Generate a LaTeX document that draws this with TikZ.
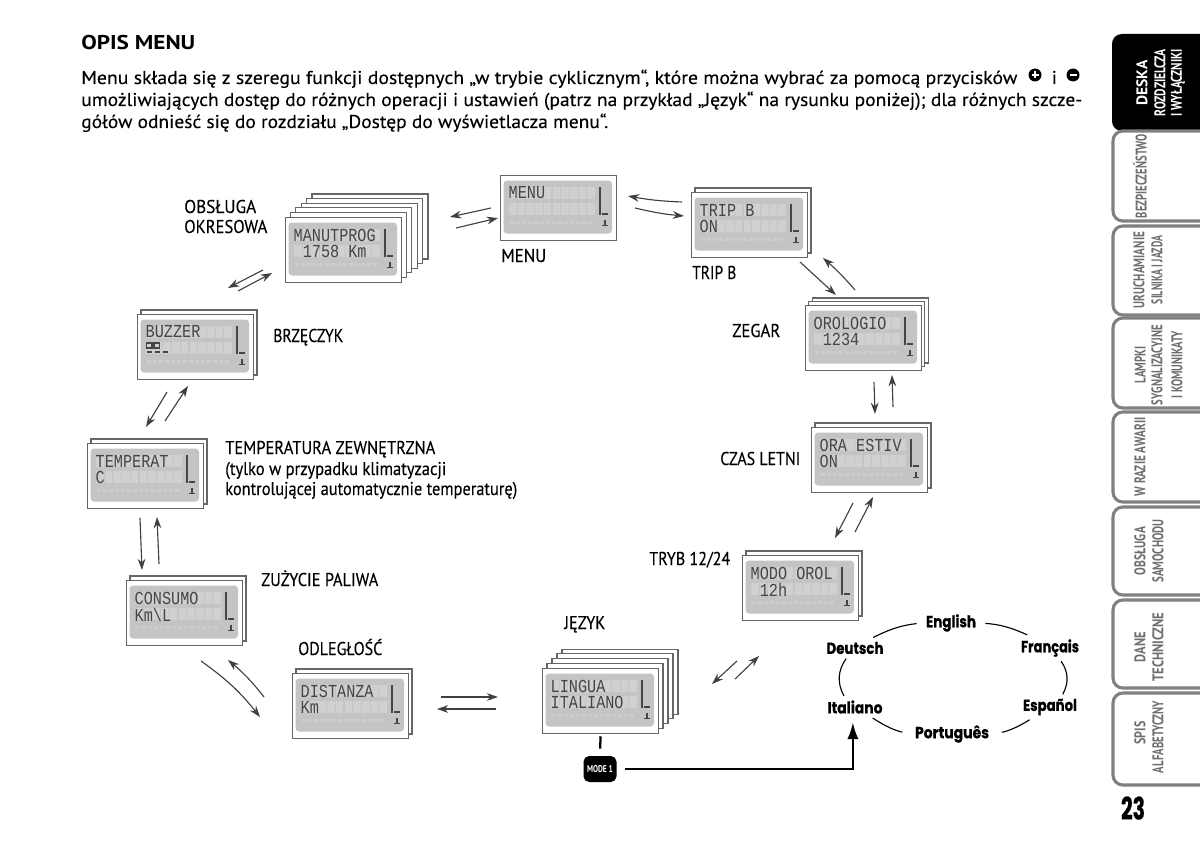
\documentclass[tikz,border=0pt]{standalone}
\usepackage{fontspec}
\usepackage{graphicx}
\usetikzlibrary{arrows}
\usetikzlibrary{arrows.meta}

\newfontfamily\ptfont{PT Sans}[FakeBold=0.15]
\newfontfamily\ptbold{PT Sans Bold}
\newfontfamily\lcdfont{Liberation Mono}
\newfontfamily\langfont{Poppins Bold}[FakeBold=0.6]

\definecolor{lcdgray}{HTML}{C4C4C4}
\definecolor{lcdcell}{HTML}{D0D0D0}
\definecolor{lcdfaint}{HTML}{CDCDCD}
\definecolor{lcdink}{HTML}{454545}
\definecolor{framegray}{HTML}{666666}
\definecolor{arrowgray}{HTML}{404040}
\definecolor{tabgray}{HTML}{808080}
\definecolor{tabtextgray}{HTML}{6E6E6E}

\newdimen\pxunit
\pxunit=0.025cm
\newcommand{\fitbox}[2]{\resizebox{#1\pxunit}{\height}{#2}}

\begin{document}
\begin{tikzpicture}[x=0.025cm,y=-0.025cm]
            \tikzstyle{screen}=[draw=framegray,line width=0.8pt,fill=white,anchor=north west,minimum width=2.9cm,minimum height=1.625cm,inner sep=0pt]
            \tikzstyle{backframe}=[draw=framegray,line width=0.8pt,fill=white]
            \tikzstyle{lcdtext}=[anchor=west,inner sep=0pt,text=lcdink,font=\lcdfont\fontsize{13}{13}\selectfont,xscale=0.83]
            \tikzstyle{cyclearrow}=[draw=arrowgray,line width=0.8pt,-{Stealth[length=8pt,width=5.5pt]}]
            \tikzstyle{caption}=[anchor=base west,inner sep=0pt,font=\ptfont\fontsize{13.2}{15}\selectfont]
            \tikzstyle{heading}=[anchor=base west,inner sep=0pt,font=\ptbold\fontsize{14.2}{16}\selectfont]
            \tikzstyle{language}=[inner sep=3pt,font=\langfont\fontsize{11.5}{13}\selectfont]
            \tikzstyle{langarc}=[draw=black,line width=0.8pt]
            \tikzstyle{tabframe}=[draw=tabgray,line width=2.2pt,fill=white,rounded corners=7pt]
            \tikzstyle{tabtext}=[rotate=90,inner sep=0pt,text=tabtextgray,font=\ptbold\fontsize{11}{12}\selectfont]
            \tikzstyle{roundbutton}=[circle,fill=black,minimum size=13\pxunit,inner sep=0pt]

            % screen with its stack of pages behind it
            \def\lcdscreen#1#2#3#4#5#6#7#8{
                \ifnum#4>0
                    \foreach \i in {#4,...,1}
                        \path[backframe] ({#2+\i*#5},{#3-\i*#6}) rectangle +(116,65);
                \fi
                \node[screen] (#1) at (#2,#3) {};
                \begin{scope}[shift={(#2,#3)}]
                    \fill[lcdgray,rounded corners=2.5pt] (3.5,5.5) rectangle (112,58.5);
                    \foreach \c in {0,...,9} {
                        \fill[lcdcell] ({9+8.7*\c},12) rectangle +(7.6,12);
                        \fill[lcdcell] ({9+8.7*\c},28) rectangle +(7.6,12);
                    }
                    \foreach \c in {0,...,13}
                        \fill[lcdfaint] ({10+6*\c},45.5) rectangle +(3.6,3.5);
                    \node[lcdtext] (#1-top) at (8.5,18) {#7};
                    \node[lcdtext] (#1-bot) at (8.5,34.5) {#8};
                    \draw[lcdink,line width=0.9pt] (100,12) -- (100,40);
                    \fill[lcdink] (102,37.5) rectangle (108,39.5);
                    \fill[lcdink] (102,50) rectangle (108,51);
                    \fill[lcdink] (104.4,45) rectangle (105.6,50);
                \end{scope}
            }

            % pair of ends for one arrow of the cycle
            \def\cyclearrow#1#2#3#4#5#6{
                \coordinate (#1-a) at (#2,#3);
                \coordinate (#1-b) at (#4,#5);
                \draw[cyclearrow] (#1-a) to[bend left=#6] (#1-b);
            }

            \useasboundingbox[fill=white] (0,0) rectangle (1200,847);

            \node[heading] (title) at (81,50) {\fitbox{114}{OPIS MENU}};
            \node[caption] (body1) at (81,84) {\fitbox{936}{Menu składa się z szeregu funkcji dostępnych „w trybie cyklicznym“, które można wybrać za pomocą przycisków}};
            \node[caption] (body2) at (81,106) {\fitbox{1001}{umożliwiających dostęp do różnych operacji i ustawień (patrz na przykład „Język“ na rysunku poniżej); dla różnych szcze-}};
            \node[caption] (body3) at (81,128) {\fitbox{527}{gółów odnieść się do rozdziału „Dostęp do wyświetlacza menu“.}};
            \node[roundbutton] (plusbutton) at (1035,75) {};
            \draw[white,line width=1.4pt] (1031.5,75) -- (1038.5,75) (1035,71.5) -- (1035,78.5);
            \node[caption] (andword) at (1051.5,84) {i};
            \node[roundbutton] (minusbutton) at (1073,75) {};
            \draw[white,line width=1.4pt] (1069.5,75) -- (1076.5,75);

            \lcdscreen{menu}{500}{175}{0}{4}{4}{MENU}{}
            \lcdscreen{manutprog}{285}{217}{5}{5.4}{4.6}{MANUTPROG}{~1758~Km}
            \lcdscreen{tripb}{691}{192}{1}{4}{4}{TRIP~B}{ON}
            \lcdscreen{orologio}{805}{305}{2}{3.7}{3.5}{OROLOGIO}{~1234}
            \lcdscreen{oraestiv}{811}{427}{1}{4}{4}{ORA~ESTIV}{ON}
            \lcdscreen{mododrol}{742}{555}{1}{4}{4}{MODO~OROL}{~12h}
            \lcdscreen{lingua}{542}{668}{4}{5}{4.7}{LINGUA}{ITALIANO}
            \lcdscreen{distanza}{292}{673}{1}{4}{4}{DISTANZA}{Km}
            \lcdscreen{consumo}{126}{580}{1}{4}{4}{CONSUMO}{Km\textbackslash L}
            \lcdscreen{temperat}{87}{443}{1}{4}{4}{TEMPERAT}{C}
            \lcdscreen{buzzer}{137}{314}{1}{4}{4}{BUZZER}{}

            \draw[lcdink,line width=0.8pt] (147,352) -- (152,352) (155,352) -- (160,352) (163,352) -- (168,352);
            \draw[lcdink,line width=0.8pt] (146.5,343) rectangle (152,348) (154,343) rectangle (159.5,348);

            \cyclearrow{menuleft}{491}{208}{450}{217}{0}
            \cyclearrow{leftmenu}{456}{228}{498}{218}{0}
            \cyclearrow{tripmenu}{682}{202}{628}{196}{4}
            \cyclearrow{menutrip}{635}{208}{684}{216}{-4}
            \cyclearrow{tripclock}{800}{262}{836}{295}{0}
            \cyclearrow{clocktrip}{855}{290}{823}{258}{-4}
            \cyclearrow{clocksummer}{874}{382}{875}{414}{0}
            \cyclearrow{summerclock}{893}{407}{892}{375}{0}
            \cyclearrow{summermode}{853}{503}{835}{538}{0}
            \cyclearrow{modesummer}{855}{532}{873}{497}{0}
            \cyclearrow{modelang}{737}{661}{712}{684}{0}
            \cyclearrow{langmode}{735}{679}{759}{656}{0}
            \cyclearrow{distlang}{441}{697}{498}{697}{0}
            \cyclearrow{langdist}{496}{709}{437}{709}{0}
            \cyclearrow{fueldist}{201}{661}{260}{717}{8}
            \cyclearrow{distfuel}{264}{697}{228}{660}{-6}
            \cyclearrow{tempfuel}{140}{518}{142}{570}{0}
            \cyclearrow{fueltemp}{159}{564}{157}{517}{0}
            \cyclearrow{buzztemp}{167}{392}{146}{427}{0}
            \cyclearrow{tempbuzz}{165}{421}{188}{386}{0}
            \cyclearrow{servbuzz}{263}{270}{228}{288}{0}
            \cyclearrow{buzzserv}{238}{291}{272}{273}{0}

            \foreach \nm/\xx/\yy/\wid/\txt in {
                    service/184/213/72/OBSŁUGA,
                    serviceb/184/233/83/OKRESOWA,
                    menulabel/501/262/45/MENU,
                    triplabel/692/279/44/TRIP B,
                    clocklabel/732/337/48/ZEGAR,
                    buzzlabel/273/342/70/BRZĘCZYK,
                    templabel/225/454/210/TEMPERATURA ZEWNĘTRZNA,
                    templabelb/225/475/221/(tylko w przypadku klimatyzacji,
                    templabelc/225/495/292/kontrolującej automatycznie temperaturę),
                    summerlabel/720/465/80/CZAS LETNI,
                    modelabel/649/565/81/{TRYB 12/24},
                    fuellabel/261/586/117/ZUŻYCIE PALIWA,
                    distlabel/298/655/84/ODLEGŁOŚĆ,
                    langlabel/564/629/41/JĘZYK} {
                \node[caption] (\nm) at (\xx,\yy) {\fitbox{\wid}{\txt}};
            }

            \node[language] (english) at (951,623) {\fitbox{50}{English}};
            \node[language] (francais) at (1050,648) {\fitbox{58}{Français}};
            \node[language] (espanol) at (1050,707) {\fitbox{54}{Español}};
            \node[language] (portugues) at (952,734) {\fitbox{74}{Português}};
            \node[language] (italiano) at (855,707) {\fitbox{55}{Italiano}};
            \node[language] (deutsch) at (855,648) {\fitbox{57}{Deutsch}};

            \path[langarc,shorten <=3.5pt] (english.west) to[bend right=10] (deutsch.30);
            \path[langarc,shorten <=3.5pt] (english.east) to[bend left=10] (francais.150);
            \path[langarc] (francais.-50) to[bend left=32] (espanol.45);
            \path[langarc] (deutsch.-130) to[bend right=32] (italiano.135);
            \path[langarc,shorten >=6pt] (italiano.-32) to[bend right=10] (portugues.west);
            \path[langarc,shorten <=6pt] (portugues.east) to[bend right=10] (espanol.-148);

            \node[fill=black,rounded corners=4pt,minimum width=33\pxunit,minimum height=26\pxunit,inner sep=0pt,text=white,font=\ptbold\fontsize{7}{8}\selectfont] (modebutton) at (600,769) {\fitbox{26}{MODE 1}};
            \draw[black,line width=1.6pt,shorten <=1.5pt,shorten >=5pt] (lingua.south) -- (modebutton.north);
            \draw[black,line width=1.7pt,-{Latex[length=12pt,width=8pt]},shorten <=6pt,shorten >=3pt] (modebutton.east) -| ([xshift=-1.5pt]italiano.south);

            \path[fill=black,rounded corners=7pt] (1200,34) -- (1112,34) -- (1112,131) -- (1200,131);
            \fill[black] (1180,34) rectangle (1200,131);
            \foreach \yy/\yb in {131/221,226/315,318/408,412/502,507/595,600/688,693/785}
                \path[tabframe] (1201,\yy) -- (1113,\yy) -- (1113,\yb) -- (1201,\yb);

            \foreach \nm/\xx/\yy/\wid/\txt in {
                    desk/1142/83/45/DESKA,
                    deskb/1160/83/67/ROZDZIELCZA,
                    deskc/1178/83/67/I WYŁĄCZNIKI} {
                \node[tabtext,text=white] (\nm) at (\xx,\yy) {\fitbox{\wid}{\txt}};
            }
            \foreach \nm/\xx/\yy/\wid/\txt in {
                    safety/1140/176/84/BEZPIECZEŃSTWO,
                    start/1139/270/76/URUCHAMIANIE,
                    startb/1157/270/68/SILNIKA I JAZDA,
                    lamps/1140/365/37/LAMPKI,
                    lampsb/1157/365/80/SYGNALIZACYJNE,
                    lampsc/1177/365/67/I KOMUNIKATY,
                    breakdown/1140/457/79/W RAZIE AWARII,
                    care/1140/551/48/OBSŁUGA,
                    careb/1158/551/63/SAMOCHODU,
                    data/1140/647/30/DANE,
                    datab/1158/647/69/TECHNICZNE,
                    index/1140/733/23/SPIS,
                    indexb/1158/737/72/ALFABETYCZNY} {
                \node[tabtext] (\nm) at (\xx,\yy) {\fitbox{\wid}{\txt}};
            }

            \node[inner sep=0pt,font=\langfont\fontsize{22}{24}\selectfont] (pagenumber) at (1133,808) {\fitbox{24}{23}};
\end{tikzpicture}
\end{document}
